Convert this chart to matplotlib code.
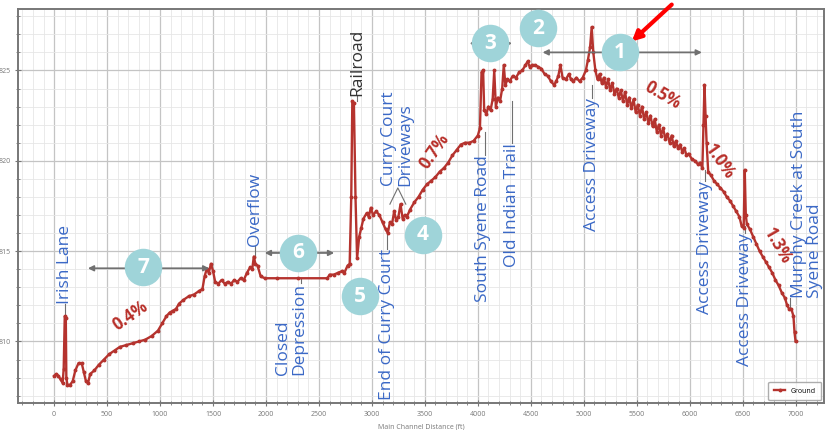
import numpy as np
import matplotlib.pyplot as plt
from matplotlib.ticker import MultipleLocator

plt.rcParams['font.family'] = ['Open Sans', 'DejaVu Sans']

# ground profile
distance = [0, 20, 40, 60, 80, 90, 100, 110, 115, 125, 150, 175, 200, 230, 260, 280, 300, 320,
            340, 380, 420, 470, 520, 570, 620, 680, 740, 800, 860, 920, 980, 1020, 1060, 1090,
            1120, 1150, 1180, 1220, 1270, 1320, 1370, 1400, 1420, 1440, 1460, 1480, 1500, 1520,
            1550, 1580, 1610, 1640, 1670, 1700, 1730, 1760, 1790, 1820, 1850, 1870, 1885, 1900,
            1920, 1950, 1990, 2100, 2300, 2580, 2600, 2640, 2680, 2720, 2740, 2770, 2790, 2805,
            2815, 2830, 2845, 2860, 2880, 2900, 2920, 2950, 2970, 2990, 3010, 3040, 3070, 3100,
            3130, 3150, 3170, 3190, 3210, 3230, 3250, 3270, 3290, 3310, 3330, 3360, 3400, 3440,
            3480, 3520, 3560, 3600, 3640, 3680, 3720, 3760, 3800, 3840, 3880, 3920, 3960, 4000,
            4020, 4035, 4050, 4060, 4080, 4100, 4120, 4140, 4155, 4170, 4190, 4210, 4230, 4245,
            4260, 4280, 4300, 4330, 4360, 4390, 4420, 4450, 4470, 4490, 4510, 4540, 4570, 4600,
            4630, 4660, 4690, 4720, 4740, 4760, 4780, 4800, 4830, 4860, 4880, 4900, 4930, 4960,
            4990, 5020, 5040, 5060, 5075, 5090, 5110, 5130, 5150, 5170, 5190, 5210, 5230, 5250,
            5270, 5290, 5310, 5330, 5350, 5370, 5390, 5410, 5430, 5450, 5470, 5490, 5510, 5530,
            5550, 5570, 5590, 5610, 5630, 5650, 5670, 5690, 5710, 5730, 5750, 5770, 5790, 5810,
            5830, 5850, 5870, 5890, 5910, 5930, 5950, 5970, 5990, 6020, 6050, 6080, 6100, 6120,
            6130, 6140, 6150, 6160, 6175, 6200, 6230, 6260, 6290, 6320, 6350, 6380, 6410, 6440,
            6470, 6490, 6510, 6520, 6530, 6540, 6570, 6600, 6630, 6660, 6690, 6720, 6750, 6780,
            6810, 6840, 6870, 6900, 6920, 6940, 6960, 6980, 6990, 7000]
elevation = [808.1, 808.2, 808.1, 807.9, 807.7, 808.5, 811.4, 811.3, 808.0, 807.6, 807.6, 807.8,
             808.4, 808.8, 808.8, 808.3, 807.8, 807.7, 808.2, 808.4, 808.7, 809.0, 809.3, 809.5,
             809.7, 809.8, 809.9, 810.0, 810.1, 810.3, 810.6, 811.0, 811.4, 811.6, 811.7, 811.8,
             812.1, 812.3, 812.5, 812.6, 812.8, 812.9, 813.6, 814.0, 813.8, 814.3, 813.9, 813.3,
             813.2, 813.4, 813.2, 813.3, 813.2, 813.4, 813.3, 813.5, 813.4, 813.8, 814.1, 814.0,
             814.7, 814.3, 814.2, 813.6, 813.5, 813.5, 813.5, 813.5, 813.7, 813.7, 813.8, 813.9,
             813.8, 814.2, 814.3, 818.0, 823.3, 823.2, 818.0, 814.6, 815.8, 816.3, 816.8, 817.1,
             816.9, 817.4, 817.0, 817.2, 817.0, 816.6, 816.2, 816.0, 816.6, 816.5, 817.2, 816.7,
             816.9, 817.6, 816.8, 817.0, 816.9, 817.3, 817.7, 818.0, 818.4, 818.7, 818.9, 819.1,
             819.4, 819.6, 819.9, 820.3, 820.6, 820.9, 821.0, 821.0, 821.1, 821.4, 821.8, 824.9,
             825.0, 822.8, 822.6, 823.0, 822.8, 823.4, 825.0, 823.0, 823.5, 823.3, 824.0, 825.3,
             824.2, 824.5, 824.4, 824.7, 824.6, 824.9, 825.0, 825.3, 825.5, 825.2, 825.3, 825.3,
             825.2, 825.1, 824.8, 824.7, 824.4, 824.2, 824.4, 824.7, 825.3, 824.6, 824.5, 824.8,
             824.5, 824.4, 824.6, 824.4, 824.6, 825.0, 825.6, 826.3, 827.4, 826.0, 825.0, 824.5,
             824.8, 824.3, 824.6, 824.1, 824.5, 823.9, 824.3, 823.7, 824.0, 823.5, 823.9, 823.3,
             823.8, 823.1, 823.5, 822.9, 823.4, 822.7, 823.1, 822.5, 823.0, 822.3, 822.7, 822.1,
             822.5, 821.9, 822.3, 821.6, 822.0, 821.4, 821.8, 821.2, 821.5, 821.0, 821.4, 820.8,
             821.1, 820.7, 820.9, 820.5, 820.7, 820.3, 820.4, 820.1, 820.0, 819.8, 819.9, 819.6,
             822.0, 824.2, 822.5, 821.0, 819.4, 819.2, 818.9, 818.7, 818.5, 818.3, 818.0, 817.8,
             817.5, 817.2, 816.9, 816.4, 816.3, 819.5, 817.0, 816.5, 816.2, 815.8, 815.4, 815.0,
             814.7, 814.4, 814.1, 813.8, 813.4, 813.1, 812.7, 812.4, 812.0, 811.8, 811.8, 811.4,
             810.5, 810.0]

BLUE = '#3a68c6'
RED = '#b8302a'
TEAL = '#9fd4d9'
GREY = '#707070'

fig = plt.figure(figsize=(8.25, 4.3), dpi=100)
ax = fig.add_axes([0.022, 0.063, 0.977, 0.916])

ax.plot(distance, elevation, color='#b5332e', lw=1.7, marker='o', ms=1.8, label='Ground', zorder=3)

ax.set_xlim(-340, 7270)
ax.set_ylim(806.6, 828.4)
ax.xaxis.set_major_locator(MultipleLocator(500))
ax.xaxis.set_minor_locator(MultipleLocator(100))
ax.yaxis.set_major_locator(MultipleLocator(5))
ax.yaxis.set_minor_locator(MultipleLocator(1))
ax.grid(which='major', color='#c4c4c4', lw=0.9)
ax.grid(which='minor', color='#e6e6e6', lw=0.6)
ax.tick_params(which='both', direction='inout', colors='#777777', labelsize=5)
ax.tick_params(which='major', length=4)
ax.tick_params(which='minor', length=2.5)
for sp in ax.spines.values():
    sp.set_color('#777777')
    sp.set_linewidth(1.4)
ax.set_xlabel('Main Channel Distance (ft)', fontsize=5, color='#777777', labelpad=4)

leg = ax.legend(loc='lower right', fontsize=5, frameon=True, borderaxespad=0.4, handlelength=1.6,
                borderpad=0.8)
leg.get_frame().set_edgecolor('#999999')


def label(x, y, s, va, y0, y1, lx=None, color=BLUE, **kw):
    ax.text(x, y, s, rotation=90, ha='center', va=va, color=color, fontsize=12.5,
            linespacing=1.0, **kw)
    lx = x if lx is None else lx
    ax.plot([lx, lx], [y0, y1], color=GREY, lw=0.8, zorder=2)


label(104, 812.1, 'Irish Lane', 'bottom', 811.4, 812.1)
label(1896, 815.3, 'Overflow', 'bottom', 814.7, 815.3)
label(2236, 813.25, 'Closed\nDepression', 'top', 813.5, 813.25, lx=2330, multialignment='left')
label(2858, 823.6, 'Railroad', 'bottom', 823.3, 823.6, color='#333333')
label(3236, 818.6, 'Curry Court\nDriveways', 'bottom', 818.6, 818.6, multialignment='left')
ax.plot([3170, 3245, 3320], [817.6, 818.5, 817.6], color=GREY, lw=0.8)
label(3141, 815.1, 'End of Curry Court', 'top', 816.0, 815.1)
label(4047, 820.3, 'South Syene Road', 'top', 821.6, 820.3, lx=4065)
label(4320, 821.0, 'Old Indian Trail', 'top', 823.3, 821.0)
label(5075, 823.5, 'Access Driveway', 'top', 824.2, 823.5)
label(6142, 818.9, 'Access Driveway', 'top', 819.5, 818.9)
label(6519, 816.0, 'Access Driveway', 'top', 816.4, 816.0)
label(7104, 812.4, 'Murphy Creek at South\nSyene Road', 'bottom', 811.8, 812.4, lx=6950,
      multialignment='left')

# slope labels
slopes = [(717, 811.4, '0.4%', 35), (3594, 820.55, '0.7%', 55), (5745, 823.6, '0.5%', -30),
          (6283, 820.0, '1.0%', -55), (6821, 815.3, '1.3%', -60)]
for x, y, s, r in slopes:
    ax.text(x, y, s, rotation=r, ha='center', va='center', color=RED, fontsize=12,
            fontweight='bold')

# double arrows
for x0, x1, y in [(292, 1491, 814.05), (1962, 2670, 814.9), (3896, 4349, 826.5), (4585, 6142, 826.0)]:
    ax.annotate('', xy=(x1, y), xytext=(x0, y),
                arrowprops=dict(arrowstyle='<|-|>', color=GREY, lw=1.3, mutation_scale=8))

# numbered circles
circles = [(840, 814.1, '7'), (2302, 814.9, '6'), (2887, 812.5, '5'), (3481, 815.9, '4'),
           (4113, 826.5, '3'), (4566, 827.35, '2'), (5340, 826.0, '1')]
for x, y, s in circles:
    ax.plot(x, y, 'o', ms=27, color=TEAL, mec='none', zorder=5, clip_on=False)
    ax.text(x, y, s, ha='center', va='center', color='white', fontsize=15, fontweight='bold',
            zorder=6)

# red pointer
ax.annotate('', xy=(5434, 826.5), xytext=(5850, 828.75), annotation_clip=False,
            arrowprops=dict(arrowstyle='-|>', color='#ff0000', lw=3, mutation_scale=14))

fig.savefig('out.png', dpi=100)
